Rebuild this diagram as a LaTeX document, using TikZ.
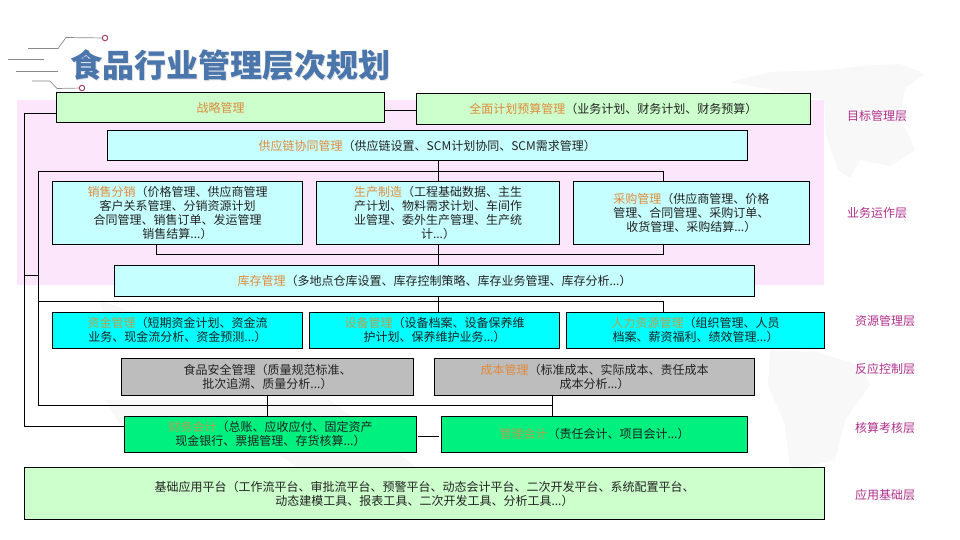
\documentclass[tikz,border=0pt]{standalone}
\usepackage{fontspec}
\setmainfont{Noto Sans CJK SC}
\definecolor{pinkbg}{HTML}{FCE6FC}
\definecolor{mapgray}{HTML}{F8F8F8}
\definecolor{lgreen}{HTML}{CCFFCC}
\definecolor{lcyan}{HTML}{C6FFFF}
\definecolor{scyan}{HTML}{00FFFF}
\definecolor{sgray}{HTML}{BDBDBD}
\definecolor{sgreen}{HTML}{00F080}
\definecolor{titleblue}{HTML}{4A76AC}
\definecolor{accent}{HTML}{E08A3C}
\definecolor{accentb}{HTML}{B8A050}
\definecolor{layerc}{HTML}{B0308C}
\definecolor{bodytx}{HTML}{222222}
\definecolor{decor}{HTML}{8A8A8A}
\definecolor{ringc}{HTML}{A83A5C}
\newcommand{\hl}[1]{\textcolor{accent}{#1}}
\newcommand{\hk}[1]{\textcolor{accentb}{#1}}
\newcommand{\bx}[7]{\node[box,#6,minimum width=#4pt-#2pt,minimum height=#5pt-#3pt] (#1) at ({(#2+#4)/2},{(#3+#5)/2}) {#7};}
\tikzset{
  box/.style={draw=black,line width=1pt,inner sep=0pt,outer sep=0pt,align=center,text=bodytx,
    font=\fontsize{12}{14}\selectfont},
  green1/.style={fill=lgreen},
  cyan1/.style={fill=lcyan},
  cyan2/.style={fill=scyan},
  gray1/.style={fill=sgray},
  green2/.style={fill=sgreen},
  layerlabel/.style={text=layerc,font=\fontsize{12}{14}\selectfont,inner sep=0pt},
  link/.style={draw=black,line width=1pt},
  deco/.style={draw=decor,line width=0.7pt},
  ring/.style={draw=ringc,line width=0.9pt,fill=white,circle,minimum size=5.5pt,inner sep=0pt},
}
\begin{document}
\begin{tikzpicture}[x=1pt,y=-1pt]
\useasboundingbox (0,0) rectangle (960,540);
\fill[white] (0,0) rectangle (960,540);
% faint world map
\fill[mapgray] (730,82) -- (770,72) -- (830,70) -- (860,66) -- (900,64) -- (925,74) -- (905,88) -- (900,118) -- (915,150) -- (890,166) -- (860,160) -- (850,178) -- (838,170) -- (826,135) -- (824,100) -- cycle;
\fill[mapgray] (770,350) -- (815,352) -- (860,365) -- (870,385) -- (845,420) -- (835,460) -- (790,470) -- (785,425) -- (768,385) -- cycle;
\fill[mapgray] (100,300) -- (180,330) -- (190,350) -- (110,350) -- cycle;
\fill[mapgray] (105,400) -- (330,400) -- (420,470) -- (300,470) -- (230,415) -- (130,440) -- cycle;
\fill[pinkbg] (17,100) rectangle (824,285);
% title decoration
\coordinate (ringA) at (105,38);
\coordinate (ringB) at (82,88);
\draw[deco] (28,48.5) -- (58,48.5) -- (66,37.5) -- (ringA);
\draw[deco] (8,59.5) -- (44,59.5);
\draw[deco] (16,71) -- (58,71);
\draw[deco] (32,81) -- (50,81) -- (57,88.5) -- (ringB);
\node[ring] (r1) at (ringA) {};
\node[ring] (r2) at (ringB) {};
% title
\node[anchor=west,inner sep=0pt,text=black!10,font=\fontsize{32}{38}\bfseries\selectfont] (titleshadow) at (71.5,66) {食品行业管理层次规划};
\node[anchor=west,inner sep=0pt,text=titleblue,font=\fontsize{32}{38}\bfseries\selectfont] (title) at (70.5,65) {食品行业管理层次规划};
% connectors coordinates
\coordinate (leftTop) at (24.5,114);
\coordinate (innerTL) at (38.5,171.5);
\coordinate (innerTR) at (663.5,171.5);
\coordinate (midB) at (156.5,254);
\coordinate (midBR) at (663.5,254);
\coordinate (resL) at (38.5,301.5);
\coordinate (resR) at (663.5,301.5);
\coordinate (innerBL) at (38.5,405);
\coordinate (innerBR) at (552,405);
\coordinate (leftBot) at (24.5,426);
\coordinate (tie1) at (24.5,275);
\coordinate (tie2) at (38.5,275);
% boxes
\bx{zl}{56.5}{92.5}{384.5}{123}{green1}{\hl{战略管理}}
\bx{qm}{416}{93.5}{810.5}{125}{green1}{\hl{全面计划预算管理}（业务计划、财务计划、财务预算）}
\bx{gy}{107.5}{130.5}{747}{161}{cyan1}{\hl{供应链协同管理}（供应链设置、SCM计划协同、SCM需求管理）}
\bx{xs}{52.5}{182}{302.5}{244}{cyan1}{\hl{销售分销}（价格管理、供应商管理\\客户关系管理、分销资源计划\\合同管理、销售订单、发运管理\\销售结算...）}
\bx{sc}{316.5}{182}{559.5}{244}{cyan1}{\hl{生产制造}（工程基础数据、主生\\产计划、物料需求计划、车间作\\业管理、委外生产管理、生产统\\计...）}
\bx{cg}{573.5}{182}{809}{244}{cyan1}{\hl{采购管理}（供应商管理、价格\\管理、合同管理、采购订单、\\收货管理、采购结算...）}
\bx{kc}{114.5}{265.5}{754.5}{296}{cyan1}{\hl{库存管理}（多地点仓库设置、库存控制策略、库存业务管理、库存分析...）}
\bx{zj}{52.5}{312}{302.5}{348}{cyan2}{\hk{资金管理}（短期资金计划、资金流\\业务、现金流分析、资金预测...）}
\bx{sb}{309.5}{312}{559.5}{348}{cyan2}{\hk{设备管理}（设备档案、设备保养维\\护计划、保养维护业务...）}
\bx{rl}{566.5}{312}{824.5}{348}{cyan2}{\hk{人力资源管理}（组织管理、人员\\档案、薪资福利、绩效管理...）}
\bx{sp}{121.5}{358}{413.5}{395}{gray1}{食品安全管理（质量规范标准、\\批次追溯、质量分析...）}
\bx{cb}{434.5}{358}{754.5}{395}{gray1}{\hl{成本管理}（标准成本、实际成本、责任成本\\成本分析...）}
\bx{cw}{124.5}{416.5}{416.5}{452}{green2}{\hk{财务会计}（总账、应收应付、固定资产\\现金银行、票据管理、存货核算...）}
\bx{gl}{441.5}{416.5}{747.5}{452}{green2}{\hk{管理会计}（责任会计、项目会计...）}
\bx{jc}{24.5}{467.5}{824.5}{519.5}{green1}{基础应用平台（工作流平台、审批流平台、预警平台、动态会计平台、二次开发平台、系统配置平台、\\动态建模工具、报表工具、二次开发工具、分析工具...）}
% connectors
\draw[link] (zl.east |- 0,111) -- (qm.west |- 0,111);
\draw[link] (zl.west |- leftTop) -- (leftTop) -- (leftBot) -- (cw.west |- leftBot);
\draw[link] (tie1) -- (tie2);
\draw[link] (innerTR) -- (innerTL) -- (innerBL) -- (innerBR);
\draw[link] (gy.south -| sc.north) -- (sc.north);
\draw[link] (xs.north -| midB) -- (xs.north -| midB |- innerTL);
\draw[link] (innerTR) -- (cg.north -| innerTR);
\draw[link] (xs.south -| midB) -- (midB) -- (midBR) -- (cg.south -| midBR);
\draw[link] (sc.south) -- (kc.north -| sc.south);
\draw[link] (resL) -- (resR) -- (rl.north -| resR);
\draw[link] (kc.south -| sc.south) -- (sb.north -| sc.south);
\draw[link] (zj.north -| midB) -- (zj.north -| midB |- resL);
\draw[link] (sp.south) -- (cw.north -| sp.south);
\draw[link] (cb.south -| innerBR) -- (gl.north -| innerBR);
\draw[link] (418,436) -- (439,436);
% layer labels
\node[layerlabel] (l1) at (877,116) {目标管理层};
\node[layerlabel] (l2) at (877,212.5) {业务运作层};
\node[layerlabel] (l3) at (885,321) {资源管理层};
\node[layerlabel] (l4) at (885,368.5) {反应控制层};
\node[layerlabel] (l5) at (885,428) {核算考核层};
\node[layerlabel] (l6) at (885,494.5) {应用基础层};
\end{tikzpicture}
\end{document}
